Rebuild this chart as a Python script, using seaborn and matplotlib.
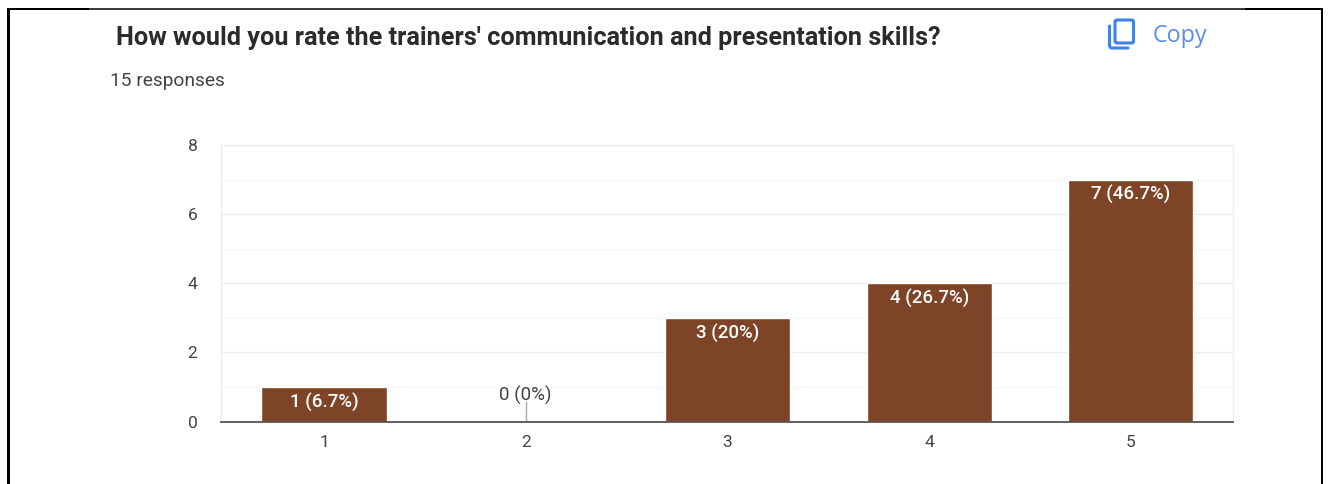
import matplotlib
matplotlib.use('Agg')
import matplotlib.pyplot as plt
from matplotlib.patches import FancyBboxPatch, Rectangle
from matplotlib.lines import Line2D
import seaborn as sns
import pandas as pd

ratings = ['1', '2', '3', '4', '5']
counts = [1, 0, 3, 4, 7]
bar_labels = ['1 (6.7%)', '0 (0%)', '3 (20%)', '4 (26.7%)', '7 (46.7%)']
y_ticks = [0, 2, 4, 6, 8]
y_minor = [1, 3, 5, 7]
title = "How would you rate the trainers' communication and presentation skills?"
subtitle = '15 responses'

W, H = 1328, 484
sns.set_style('white')
plt.rcParams['font.family'] = ['Roboto', 'DejaVu Sans']

fig = plt.figure(figsize=(W / 100, H / 100), dpi=100)
# axes box in pixels
ax = fig.add_axes([221 / W, 1 - 421.5 / H, 1012 / W, 276.5 / H])

df = pd.DataFrame({'rating': ratings, 'count': counts})
sns.barplot(data=df, x='rating', y='count', color='#7d4427', saturation=1, width=0.62, ax=ax)

ax.set_xlim(-0.5105, 4.506)
ax.set_ylim(0, 8)
ax.set_xlabel('')
ax.set_ylabel('')
ax.set_yticks(y_ticks)
ax.set_yticks(y_minor, minor=True)
ax.tick_params(axis='both', which='both', length=0, labelsize=12.5, labelcolor='#444444')
ax.tick_params(axis='x', pad=10)
ax.tick_params(axis='y', pad=17)
ax.grid(True, axis='y', which='major', color='#ececec', lw=1)
ax.grid(True, axis='y', which='minor', color='#f6f6f6', lw=1)
ax.set_axisbelow(True)
for s in ['top', 'right']:
    ax.spines[s].set_color('#f0f0f0')
    ax.spines[s].set_linewidth(1)
ax.spines['left'].set_color('#ececec')
ax.spines['left'].set_linewidth(1)
ax.spines['bottom'].set_color('#555555')
ax.spines['bottom'].set_linewidth(1.3)

for i, (c, lab) in enumerate(zip(counts, bar_labels)):
    if c == 0:
        ax.plot([i, i], [0, 0.55], color='#aaaaaa', lw=1)
        ax.annotate(lab, (i, 0), xytext=(0, 12), textcoords='offset points', ha='center',
                    va='bottom', fontsize=13.5, color='#444444')
    else:
        ax.annotate(lab, (i, c), xytext=(0, -11), textcoords='offset points', ha='center',
                    va='center', fontsize=13.5, color='white', fontweight='medium')

fig.text(116 / W, 1 - 38 / H, title, fontsize=18.15, fontweight='bold', color='#2b2b2b', va='center')
fig.text(110 / W, 1 - 81 / H, subtitle, fontsize=13.8, color='#444444', va='center')
fig.text(1153 / W, 1 - 36 / H, 'Copy', fontsize=16.8, color='#5b8def', va='center',
         family=['Open Sans', 'DejaVu Sans'])

# overlay in pixel coordinates for the copy icon and the black frame
ov = fig.add_axes([0, 0, 1, 1], facecolor='none')
ov.set_xlim(0, W)
ov.set_ylim(H, 0)
ov.axis('off')
blue = '#3f83ea'
ov.add_patch(FancyBboxPatch((1115, 20), 18.5, 23, boxstyle='round,pad=0,rounding_size=2',
                            fill=False, ec=blue, lw=2.2))
ov.add_line(Line2D([1109.5, 1109.5, 1111, 1128], [26, 46, 48, 48], color=blue, lw=2.2))

ov.add_line(Line2D([8, 1322], [8.5, 8.5], color='black', lw=1.1))
ov.add_patch(Rectangle((8, 8), 81, 2, color='black', lw=0))
ov.add_patch(Rectangle((1245, 8), 78, 2, color='black', lw=0))
ov.add_patch(Rectangle((7, 8), 2.6, H - 8, color='black', lw=0))
ov.add_patch(Rectangle((1320.5, 8), 2.4, H - 8, color='black', lw=0))

fig.savefig('out.png', dpi=100, facecolor='white')
